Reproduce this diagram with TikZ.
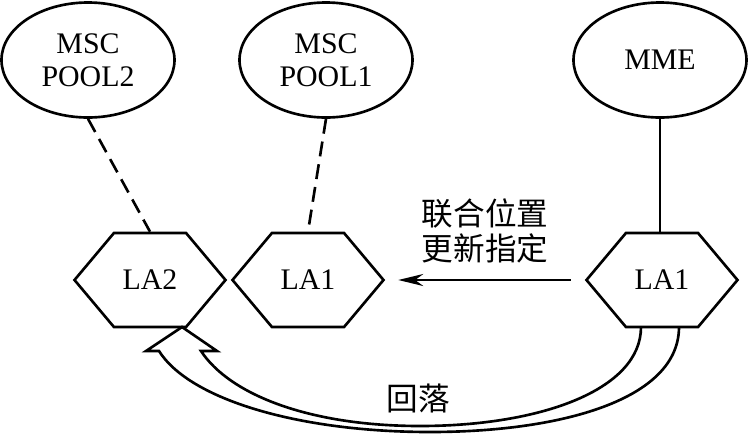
\documentclass[tikz,border=0pt]{standalone}
\usepackage{fontspec}
\setmainfont{Liberation Serif}
\newfontfamily\cjk{Noto Sans CJK SC}
\usetikzlibrary{arrows.meta, shapes.geometric, shapes.symbols}

\begin{document}
\begin{tikzpicture}[
line width=1.5pt,
% #region Picture settings %
pool/.style={draw, ellipse, minimum width=3.46cm, minimum height=2.3cm, inner sep=0pt, align=center, font=\fontsize{17}{19}\selectfont},
area/.style={draw, signal, signal to=west and east, signal pointer angle=100, minimum width=3.02cm, minimum height=1.88cm, inner sep=0pt, font=\fontsize{17}{19}\selectfont},
lnk/.style={dash pattern=on 0.3cm off 0.16cm},
ev/.style={-{Stealth[length=0.5cm, width=0.24cm]}},
% #endregion Picture settings %
]
\useasboundingbox (0,0) rectangle (15,-8.68);

\node[pool] (pool2) at (1.76,-1.2) {MSC\\POOL2};
\node[pool] (pool1) at (6.52,-1.2) {MSC\\POOL1};
\node[pool] (mme) at (13.2,-1.2) {MME};

\node[area] (la2) at (3.0,-5.6) {LA2};
\node[area] (la1) at (6.16,-5.6) {LA1};
\node[area] (la1r) at (13.24,-5.6) {LA1};

\draw[lnk] (pool2.south) -- (la2.north);
\draw[lnk] (pool1.south) -- (la1.north);
\draw (mme.south) -- (mme.south |- la1r.north);

\draw[ev, shorten <=0.28cm, shorten >=0.26cm] (la1r.west) -- (la1.east)
  node[pos=0.5, above=0.2cm, align=center, font=\cjk\fontsize{18}{20}\selectfont]{联合位置\\更新指定};

% hollow fallback arrow
\draw[line join=miter] (12.82,-6.54) .. controls (12.82,-7.8) and (10.8,-8.52) .. (8.4,-8.52)
  .. controls (6.2,-8.52) and (4.6,-7.9) .. (4.02,-7.02) -- (4.34,-7.02) -- (3.64,-6.54)
  -- (2.92,-7.02) -- (3.18,-7.02) .. controls (3.8,-8.0) and (6.0,-8.64) .. (8.6,-8.64)
  .. controls (11.2,-8.64) and (13.58,-8.0) .. (13.58,-6.54);
\node[font=\cjk\fontsize{18}{20}\selectfont] (fb) at (8.36,-7.96) {回落};

\end{tikzpicture}
\end{document}
